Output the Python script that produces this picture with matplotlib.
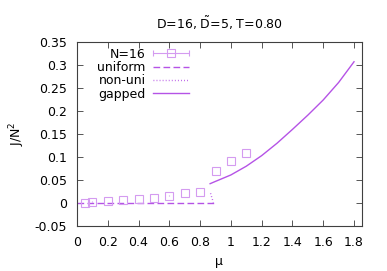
import numpy as np
import matplotlib
matplotlib.use("Agg")
import matplotlib.pyplot as plt
from matplotlib.legend_handler import HandlerErrorbar

plt.rcParams['font.family'] = ['DejaVu Sans']
plt.rcParams['mathtext.fontset'] = 'dejavusans'
plt.rcParams['font.size'] = 9

# N=16 data
mu_n16 = [0.05, 0.1, 0.2, 0.3, 0.4, 0.5, 0.6, 0.7, 0.8, 0.9, 1.0, 1.1]
J_n16 = [0.0005, 0.003, 0.004, 0.007, 0.009, 0.011, 0.016, 0.022, 0.024, 0.070, 0.091, 0.109]
err_n16 = [0.0005] * len(mu_n16)

# uniform
mu_uni = [0.0, 0.2, 0.4, 0.6, 0.8, 0.89]
J_uni = [0.0, 0.0, 0.0, 0.0, 0.0, 0.0]

# non-uniform
mu_non = [0.868, 0.874, 0.881, 0.886]
J_non = [0.021, 0.014, 0.0065, 0.001]

# gapped
mu_gap = [0.865, 0.9, 1.0, 1.1, 1.2, 1.3, 1.4, 1.5, 1.6, 1.7, 1.8]
J_gap = [0.042, 0.047, 0.061, 0.080, 0.103, 0.130, 0.160, 0.191, 0.224, 0.262, 0.307]

sq_color = '#d49bf0'
line_color = '#b553e6'

fig = plt.figure(figsize=(3.87, 2.71), dpi=100)
ax = fig.add_axes([77/387, 45/271, (361.7-77)/387, 184/271])

ax.errorbar(mu_n16, J_n16, yerr=err_n16, fmt='s', ms=5.3, mfc='none',
            mec=sq_color, mew=0.8, ecolor=sq_color, elinewidth=0.8, capsize=0)
proxy = ax.errorbar([np.nan], [np.nan], xerr=[0.0], fmt='s', ms=5.3, mfc='none',
                    mec=sq_color, mew=0.8, ecolor=sq_color, elinewidth=0.8,
                    capsize=1.9, label='N=16')
l1, = ax.plot(mu_uni, J_uni, color=line_color, lw=1.0, dashes=(4.8, 2.4), label='uniform')
l2, = ax.plot(mu_non, J_non, color=line_color, lw=1.0, dashes=(0.6, 1.6), label='non-uni')
l3, = ax.plot(mu_gap, J_gap, color=line_color, lw=1.0, label='gapped')

ax.set_xlim(0, 1.85)
ax.set_ylim(-0.05, 0.35)
ax.set_xticks(np.arange(0, 1.81, 0.2))
ax.set_xticklabels(['0', '0.2', '0.4', '0.6', '0.8', '1', '1.2', '1.4', '1.6', '1.8'])
ax.set_yticks(np.arange(-0.05, 0.351, 0.05))
ax.set_yticklabels(['-0.05', '0', '0.05', '0.1', '0.15', '0.2', '0.25', '0.3', '0.35'])
ax.tick_params(direction='in', length=4, width=0.7, top=True, right=True,
               pad=7, labelsize=9, color='#555555')
for s in ax.spines.values():
    s.set_linewidth(0.8)
    s.set_color('#404040')

ax.set_xlabel('μ', fontsize=9)
ax.xaxis.set_label_coords(0.5, -0.155)
ax.set_ylabel('J/N$^2$', fontsize=9)
ax.yaxis.set_label_coords(-0.176, 0.5)
ax.set_title('D=16, $\\tilde{\\mathrm{D}}$=5, T=0.80', fontsize=9, pad=9)

leg = ax.legend(handles=[proxy, l1, l2, l3], loc='upper right',
                bbox_to_anchor=((189.3-77)/284.7, 0.97), frameon=False,
                markerfirst=False, borderpad=0, borderaxespad=0,
                handlelength=2.9, handletextpad=0.6, labelspacing=0.03,
                numpoints=1, fontsize=9,
                handler_map={type(proxy): HandlerErrorbar(xerr_size=1.45)})

fig.savefig('out.png', dpi=100)
